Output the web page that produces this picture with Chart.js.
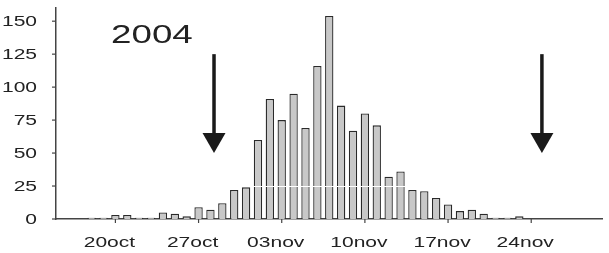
<!DOCTYPE html>
<html>
<head>
<meta charset="utf-8">
<script src="https://cdn.jsdelivr.net/npm/chart.js@4/dist/chart.umd.min.js"></script>
<style>
  html, body { margin: 0; padding: 0; background: #fff; }
  #chart { display: block; }
</style>
</head>
<body>
<canvas id="chart" width="609" height="253"></canvas>
<script>
// daily counts, 15 oct -> 30 nov 2004
const days = [
  '15oct', '16oct', '17oct', '18oct', '19oct', '20oct', '21oct', '22oct', '23oct', '24oct',
  '25oct', '26oct', '27oct', '28oct', '29oct', '30oct', '31oct',
  '01nov', '02nov', '03nov', '04nov', '05nov', '06nov', '07nov', '08nov', '09nov', '10nov',
  '11nov', '12nov', '13nov', '14nov', '15nov', '16nov', '17nov', '18nov', '19nov', '20nov',
  '21nov', '22nov', '23nov', '24nov', '25nov', '26nov', '27nov', '28nov', '29nov', '30nov'
];
const counts = [
  0, 0, 0, 1, 1, 3, 3, 1, 1, 5,
  4, 2, 9, 7, 12, 22, 24,
  60, 91, 75, 95, 69, 116, 154, 86, 67, 80,
  71, 32, 36, 22, 21, 16, 11, 6, 7, 4,
  1, 1, 2, 0, 0, 0, 0, 0, 0, 0
];
const xTickLabels = ['20oct', '27oct', '03nov', '10nov', '17nov', '24nov'];
const yTickLabels = [0, 25, 50, 75, 100, 125, 150];
const yearLabel = '2004';
// arrows: position as day index (0 = 15oct), shaft top and tip in count units
const arrowAt = [13.3, 40.9];
const arrowTop = [125, 125];
const arrowTip = [50, 50];
const whiteLineAt = 25;

const FONT = '"Liberation Sans", Arial, sans-serif';

const decorPlugin = {
  id: 'decor',
  afterDatasetsDraw(chart) {
    const { ctx, chartArea, scales: { y } } = chart;
    // white reference line across the bars
    ctx.save();
    ctx.strokeStyle = '#ffffff';
    ctx.lineWidth = 1;
    const yl = Math.round(y.getPixelForValue(whiteLineAt)) + 0.5;
    ctx.beginPath();
    ctx.moveTo(chartArea.left + 2, yl);
    ctx.lineTo(chartArea.right, yl);
    ctx.stroke();
    ctx.restore();
  },
  afterDraw(chart) {
    const { ctx, chartArea, scales: { x, y } } = chart;
    ctx.save();
    ctx.fillStyle = '#222';
    ctx.strokeStyle = '#444';
    ctx.lineWidth = 1.2;

    // y ticks + labels
    ctx.font = '14px ' + FONT;
    ctx.textAlign = 'right';
    ctx.textBaseline = 'middle';
    yTickLabels.forEach(v => {
      const py = y.getPixelForValue(v);
      ctx.beginPath();
      ctx.moveTo(chartArea.left - 4, py);
      ctx.lineTo(chartArea.left, py);
      ctx.stroke();
      ctx.save();
      ctx.translate(chartArea.left - 19, py + 1);
      ctx.scale(1.5, 1);
      ctx.fillText(String(v), 0, 0);
      ctx.restore();
    });

    // x ticks + labels (weekly)
    ctx.textAlign = 'center';
    ctx.textBaseline = 'alphabetic';
    xTickLabels.forEach(lbl => {
      const px = x.getPixelForValue(days.indexOf(lbl));
      ctx.beginPath();
      ctx.moveTo(px, chartArea.bottom);
      ctx.lineTo(px, chartArea.bottom + 4);
      ctx.stroke();
      ctx.save();
      ctx.translate(px - 6, chartArea.bottom + 28);
      ctx.scale(1.5, 1);
      ctx.fillText(lbl, 0, 0);
      ctx.restore();
    });

    // arrows
    ctx.fillStyle = '#1a1a1a';
    arrowAt.forEach((d, i) => {
      const px = x.getPixelForValue(d);
      const top = y.getPixelForValue(arrowTop[i]);
      const tip = y.getPixelForValue(arrowTip[i]);
      const headH = 20, headW = 23;
      ctx.fillRect(px - 1.75, top, 3.5, tip - top - headH + 1);
      ctx.beginPath();
      ctx.moveTo(px - headW / 2, tip - headH);
      ctx.lineTo(px + headW / 2, tip - headH);
      ctx.lineTo(px, tip);
      ctx.closePath();
      ctx.fill();
    });

    // year label
    ctx.fillStyle = '#222';
    ctx.font = '25px ' + FONT;
    ctx.textAlign = 'left';
    ctx.save();
    ctx.translate(111, 43);
    ctx.scale(1.47, 1);
    ctx.fillText(yearLabel, 0, 0);
    ctx.restore();

    ctx.restore();
  }
};

new Chart(document.getElementById('chart'), {
  type: 'bar',
  data: {
    labels: days,
    datasets: [{
      data: counts,
      backgroundColor: '#c8c8c8',
      borderColor: '#2a2a2a',
      borderWidth: 1.3,
      barPercentage: 0.78,
      categoryPercentage: 0.9
    }]
  },
  options: {
    responsive: false,
    animation: false,
    layout: { padding: { top: 8, right: 6.5, left: 0, bottom: 0 } },
    plugins: { legend: { display: false }, tooltip: { enabled: false } },
    scales: {
      x: {
        offset: false,
        grid: { display: false },
        ticks: { display: false },
        border: { display: true, color: '#444', width: 1.5 },
        afterFit: s => { s.height = 34; }
      },
      y: {
        min: 0,
        max: 160,
        grid: { display: false },
        ticks: { display: false },
        border: { display: true, color: '#444', width: 1.5 },
        afterFit: s => { s.width = 56; }
      }
    }
  },
  plugins: [decorPlugin]
});
</script>
</body>
</html>
